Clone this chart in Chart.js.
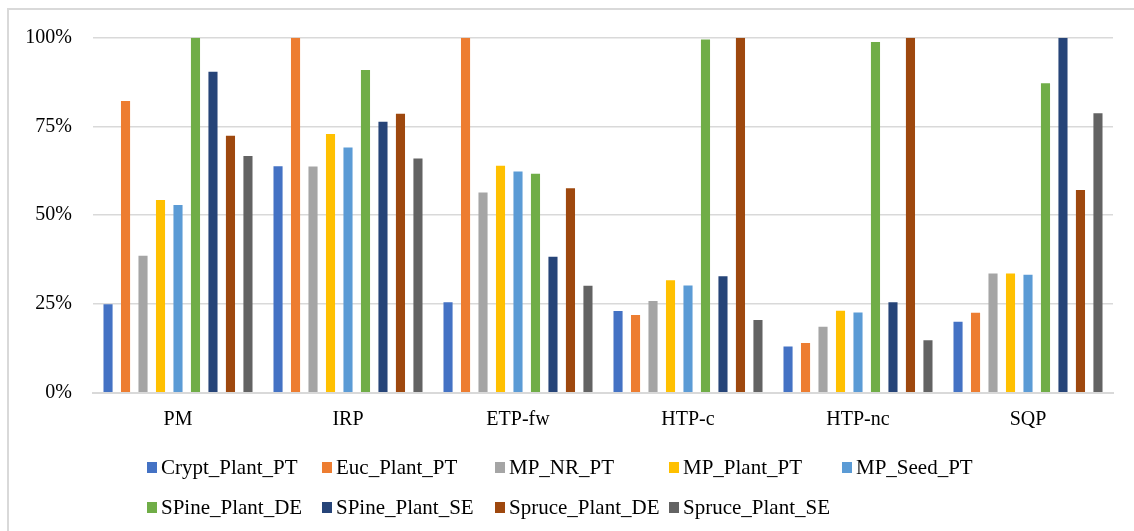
<!DOCTYPE html>
<html>
<head>
<meta charset="utf-8">
<script src="https://cdn.jsdelivr.net/npm/chart.js@4.4.1/dist/chart.umd.min.js"></script>
<style>
  html, body { margin: 0; padding: 0; background: #ffffff; overflow: hidden; }
  #wrap { position: relative; width: 1134px; height: 531px; }
  #frame {
    position: absolute; left: 7px; top: 8px; width: 1200px; height: 600px;
    border-left: 2px solid #d9d9d9; border-top: 2px solid #d9d9d9; box-sizing: border-box;
  }
  #chart { position: absolute; left: 0; top: 0; }
  .legend-item {
    position: absolute; display: flex; align-items: center;
    font-family: "Liberation Serif", "Times New Roman", serif; font-size: 21px; color: #000000;
    white-space: nowrap; line-height: 1;
  }
  .legend-item span.box { display: inline-block; width: 10px; height: 11px; margin-right: 4px; }
</style>
</head>
<body>
<div id="wrap">
  <div id="frame"></div>
  <canvas id="chart" width="1134" height="531"></canvas>
  <div id="legend"></div>
</div>
<script>
// Impact categories along the x axis
const categories = ['PM', 'IRP', 'ETP-fw', 'HTP-c', 'HTP-nc', 'SQP'];

// Relative scores (%) per system, one value per category
const cryptPlantPT   = [24.9, 63.8, 25.5, 23.0, 13.0, 20.0];
const eucPlantPT     = [82.2, 100, 100, 21.9, 14.0, 22.5];
const mpNrPT         = [38.6, 63.7, 56.4, 25.8, 18.6, 33.6];
const mpPlantPT      = [54.3, 72.9, 63.9, 31.7, 23.1, 33.6];
const mpSeedPT       = [52.9, 69.1, 62.3, 30.2, 22.6, 33.2];
const spinePlantDE   = [100, 90.9, 61.7, 99.5, 98.8, 87.2];
const spinePlantSE   = [90.4, 76.3, 38.3, 32.8, 25.5, 100];
const sprucePlantDE  = [72.4, 78.6, 57.6, 100, 100, 57.1];
const sprucePlantSE  = [66.7, 66.0, 30.1, 20.5, 14.8, 78.7];

const seriesNames = ['Crypt_Plant_PT', 'Euc_Plant_PT', 'MP_NR_PT', 'MP_Plant_PT', 'MP_Seed_PT',
                     'SPine_Plant_DE', 'SPine_Plant_SE', 'Spruce_Plant_DE', 'Spruce_Plant_SE'];
const seriesValues = [cryptPlantPT, eucPlantPT, mpNrPT, mpPlantPT, mpSeedPT,
                      spinePlantDE, spinePlantSE, sprucePlantDE, sprucePlantSE];
const seriesColors = ['#4472C4', '#ED7D31', '#A5A5A5', '#FFC000', '#5B9BD5',
                      '#70AD47', '#264478', '#9E480E', '#636363'];

// Y axis tick values
const yTicks = [0, 25, 50, 75, 100];

const datasets = seriesNames.map((name, i) => ({
  label: name,
  data: seriesValues[i],
  backgroundColor: seriesColors[i],
  borderWidth: 0,
  barPercentage: 0.52,
  categoryPercentage: 0.926
}));

const font = { family: '"Liberation Serif", "Times New Roman", serif', size: 20 };

new Chart(document.getElementById('chart'), {
  type: 'bar',
  data: { labels: categories, datasets },
  options: {
    responsive: false,
    animation: false,
    layout: { padding: { left: 0, right: 21, top: 37.7, bottom: 98.3 } },
    plugins: { legend: { display: false }, tooltip: { enabled: false } },
    scales: {
      x: {
        grid: { display: false, drawTicks: false },
        border: { display: true, color: '#d9d9d9', width: 2 },
        ticks: { color: '#000000', font, padding: 15 },
        afterFit: (s) => { s.height = 40; }
      },
      y: {
        min: 0, max: 100,
        afterBuildTicks: (s) => { s.ticks = yTicks.map(v => ({ value: v })); },
        grid: { color: '#d9d9d9', lineWidth: 1.5, drawTicks: false },
        border: { display: false },
        ticks: { color: '#000000', font, padding: 21, callback: (v) => v + '%' },
        afterFit: (s) => { s.width = 93; }
      }
    }
  }
});

// Legend laid out in fixed columns, two rows
const legendCols = [147, 322, 495, 669, 842];
const legendRows = [467, 507];
const legendEl = document.getElementById('legend');
seriesNames.forEach((name, i) => {
  const row = i < 5 ? 0 : 1;
  const col = i < 5 ? i : i - 5;
  const item = document.createElement('div');
  item.className = 'legend-item';
  item.style.left = legendCols[col] + 'px';
  item.style.top = (legendRows[row] - 11) + 'px';
  item.style.height = '22px';
  const box = document.createElement('span');
  box.className = 'box';
  box.style.background = seriesColors[i];
  item.appendChild(box);
  item.appendChild(document.createTextNode(name));
  legendEl.appendChild(item);
});
</script>
</body>
</html>
